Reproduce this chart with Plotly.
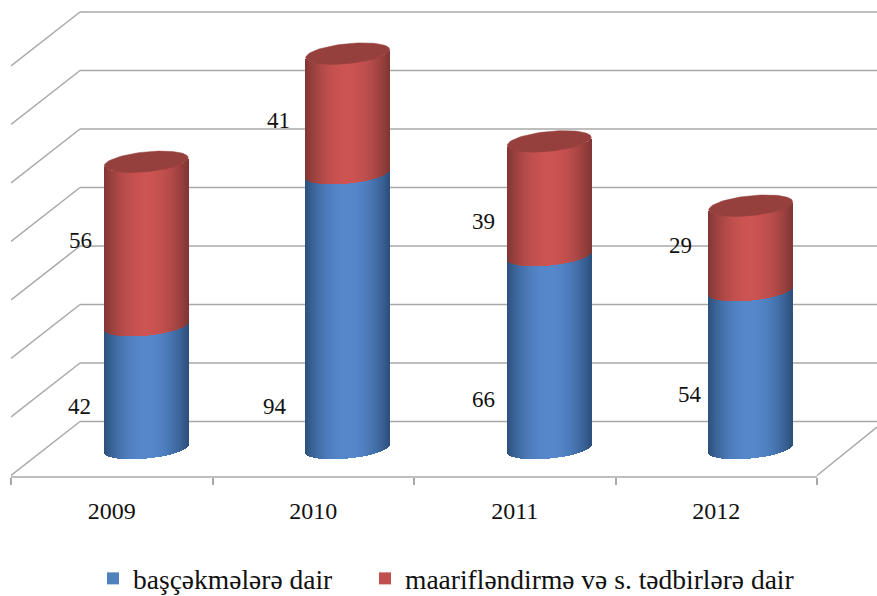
import numpy as np
import plotly.graph_objects as go

years = ["2009", "2010", "2011", "2012"]
series_a_name = "başçəkmələrə dair"
series_b_name = "maarifləndirmə və s. tədbirlərə dair"
series_a = [42, 94, 66, 54]
series_b = [56, 41, 39, 29]
grid_values = [0, 20, 40, 60, 80, 100, 120, 140]

# geometry (pixels of the pseudo-3D scene)
W, H = 877, 596
PX_LEFT, PX_CAT = 11, 201.5
PX_BASE, PX_UNIT = 448.5, 2.925
PLOT_TOP, PLOT_BOTTOM = 4, 477
DEPTH_X, DEPTH_Y = 69, 27
R_PX, B_PX, TILT_PX = 42, 10, 4

def xv(px):
    return (px - PX_LEFT) / PX_CAT - 0.5

def yv(py):
    return (PX_BASE - py) / PX_UNIT

cx_shift = (DEPTH_X / 2) / PX_CAT
R = R_PX / PX_CAT
dy_depth = DEPTH_Y / PX_UNIT
B = B_PX / PX_UNIT
TILT = TILT_PX / PX_UNIT

def mix(c1, c2, t):
    return "rgb(%d,%d,%d)" % tuple(round(a + (b - a) * t) for a, b in zip(c1, c2))

BLUE_C, BLUE_E = (85, 136, 203), (44, 80, 124)
RED_C, RED_E = (204, 84, 82), (128, 54, 52)
TOP_COLOR = "#96403e"
LINE = "#a8a8a8"

fig = go.Figure()

# series bars (inner core of the cylinders; also carry the legend entries)
xs = [i + cx_shift for i in range(4)]
fig.add_trace(go.Bar(name=series_a_name, x=xs, y=series_a, base=[0] * 4, width=1.6 * R,
                     marker=dict(color="#4f81bd", line_width=0), hoverinfo="skip", legend="legend"))
fig.add_trace(go.Bar(name=series_b_name, x=xs, y=series_b, base=series_a, width=1.6 * R,
                     marker=dict(color="#c0504d", line_width=0), hoverinfo="skip", legend="legend2"))

# cylinder shading: thin bars whose ends follow the front of the elliptical rim
step = 1.0 / PX_CAT
offs = np.arange(-R + step / 2, R, step)

def front(v, d):
    t = d / R
    return v + TILT * t - B * np.sqrt(1 - t * t)

def slices(low, high, col_c, col_e):
    sx, sb, sy, sc = [], [], [], []
    for i in range(4):
        for d in offs:
            lo, hi = front(low[i], d), front(high[i], d)
            sx.append(i + cx_shift + d)
            sb.append(lo)
            sy.append(hi - lo)
            sc.append(mix(col_c, col_e, min(1, abs(d / R) ** 2.0)))
    fig.add_trace(go.Bar(x=sx, y=sy, base=sb, width=[step * 1.5] * len(sx),
                         marker=dict(color=sc, line_width=0),
                         showlegend=False, hoverinfo="skip"))

totals = [a + b for a, b in zip(series_a, series_b)]
slices([0] * 4, series_a, BLUE_C, BLUE_E)
slices(series_a, totals, RED_C, RED_E)

# top faces of the cylinders
theta = np.linspace(0, 2 * np.pi, 90)
for i in range(4):
    fig.add_trace(go.Scatter(
        x=i + cx_shift + R * np.cos(theta),
        y=totals[i] + TILT * np.cos(theta) + B * np.sin(theta),
        mode="lines", fill="toself", fillcolor=TOP_COLOR,
        line=dict(color=TOP_COLOR, width=0.5),
        showlegend=False, hoverinfo="skip"))

# perspective walls
shapes = []
x_front, x_back = -0.5, xv(PX_LEFT + DEPTH_X)
for g in grid_values:
    yb = g + dy_depth
    yf = g - dy_depth
    shapes.append(dict(type="line", xref="x", yref="y", layer="below", x0=x_front, y0=yf,
                       x1=x_back, y1=yb, line=dict(color=LINE, width=1.5)))
    shapes.append(dict(type="line", xref="x", yref="y", layer="below", x0=x_back, y0=yb,
                       x1=xv(W), y1=yb, line=dict(color=LINE, width=1.5)))
shapes.append(dict(type="line", xref="x", yref="paper", layer="below", x0=-0.5, y0=0, x1=3.5, y1=0,
                   line=dict(color=LINE, width=1.5)))
shapes.append(dict(type="line", xref="x", yref="y", layer="below", x0=3.5, y0=-dy_depth,
                   x1=xv(W), y1=yv(427), line=dict(color=LINE, width=1.5)))

# data labels
label_px = [(79, 406), (275, 406), (483, 399), (690, 394)]
label_py = [(80, 240), (278, 120), (483, 221), (680, 245)]
annotations = []
for vals, pos in ((series_a, label_px), (series_b, label_py)):
    for v, (px, py) in zip(vals, pos):
        annotations.append(dict(x=xv(px), y=yv(py), xref="x", yref="y", text=str(v), showarrow=False,
                                font=dict(family="Liberation Serif", size=23, color="#111111")))

legend_font = dict(family="Liberation Serif", size=27.5, color="#111111")

def legend_at(px, py):
    return dict(orientation="h", xref="container", yref="container",
                x=px / W, xanchor="left", y=1 - py / H, yanchor="top",
                font=legend_font, itemwidth=30, bgcolor="rgba(0,0,0,0)")

fig.update_layout(
    width=W, height=H, autosize=False,
    margin=dict(l=PX_LEFT, r=0, t=PLOT_TOP, b=H - PLOT_BOTTOM, pad=0),
    paper_bgcolor="white", plot_bgcolor="rgba(0,0,0,0)",
    barmode="overlay", bargap=0,
    shapes=shapes, annotations=annotations,
    font=dict(family="Liberation Serif", color="#111111"),
    legend=legend_at(93, 554),
    legend2=legend_at(365, 554),
    xaxis=dict(range=[-0.5, xv(W)], showgrid=False, zeroline=False, showline=False,
               tickmode="array", tickvals=[0, 1, 2, 3], ticktext=years, ticks="", ticklen=0,
               ticklabelstandoff=17,
               tickfont=dict(family="Liberation Serif", size=24, color="#111111"),
               minor=dict(tickmode="array", tickvals=[-0.5, 0.5, 1.5, 2.5, 3.5], ticks="outside",
                          ticklen=7, tickwidth=1.5, tickcolor=LINE, showgrid=False)),
    yaxis=dict(range=[yv(PLOT_BOTTOM), yv(PLOT_TOP)], visible=False, showgrid=False, zeroline=False),
)

fig.write_html("out.html", config=dict(displayModeBar=False),
               post_script="document.body.style.margin='0';")
